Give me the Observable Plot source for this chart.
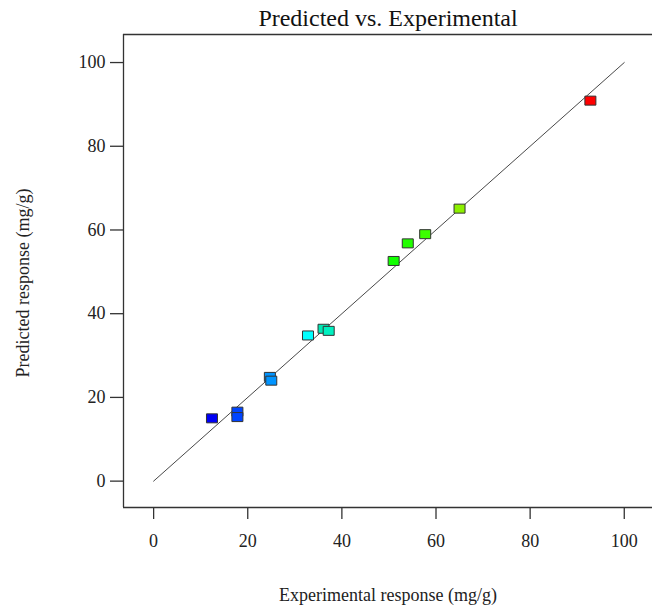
<!DOCTYPE html>
<html>
<head>
<meta charset="utf-8">
<script src="https://cdn.jsdelivr.net/npm/d3@7"></script>
<script src="https://cdn.jsdelivr.net/npm/@observablehq/plot@0.6"></script>
<style>
  html, body { margin: 0; padding: 0; background: #fff; }
  #chart svg { display: block; }
</style>
</head>
<body>
<div id="chart"></div>
<script>
// Data
const experimental = [12.4, 17.8, 17.8, 24.7, 25.0, 32.8, 36.1, 37.2, 51.0, 54.0, 57.7, 65.0, 92.8];
const predicted    = [15.0, 16.6, 15.3, 24.9, 24.0, 34.8, 36.4, 35.9, 52.6, 56.8, 59.0, 65.1, 90.9];
const pointColors  = ["#0000f5", "#0044ff", "#0044ff", "#0094ff", "#0094ff", "#00ffff", "#00e8b4", "#00f0c0",
                      "#11ff00", "#22ff00", "#3cff00", "#8cf000", "#ff0000"];
const fitLine = [{x: 0, y: 0}, {x: 100, y: 100}];
const xTicks = [0, 20, 40, 60, 80, 100];
const yTicks = [0, 20, 40, 60, 80, 100];
const xDomain = [-6.4, 106];
const yDomain = [-6.3, 106.7];
const title = "Predicted vs. Experimental";
const xLabel = "Experimental response (mg/g)";
const yLabel = "Predicted response (mg/g)";

const points = experimental.map((e, i) => ({x: e, y: predicted[i], c: pointColors[i]}));

// rectangular marker (Design-Expert style)
const rectSymbol = { draw(ctx) { ctx.rect(-5.5, -4.5, 11, 9); } };

const plot = Plot.plot({
  width: 652,
  height: 610,
  marginLeft: 123,
  marginRight: 0,
  marginTop: 34,
  marginBottom: 103,
  style: { fontFamily: "'Liberation Serif', 'Times New Roman', serif", fontSize: "18px", color: "#222", background: "#fff" },
  x: { domain: xDomain },
  y: { domain: yDomain },
  marks: [
    Plot.axisX(xTicks, { tickSize: 12, tickPadding: 15, label: null, tickFormat: d => d, fontSize: 18, stroke: "#333", strokeWidth: 1.3 }),
    Plot.axisY(yTicks, { tickSize: 13, tickPadding: 5, label: null, tickFormat: d => d, fontSize: 18, stroke: "#333", strokeWidth: 1.3 }),
    Plot.ruleY([yDomain[0], yDomain[1]], { stroke: "#333", strokeWidth: 1.3 }),
    Plot.ruleX([xDomain[0]], { stroke: "#333", strokeWidth: 1.3 }),
    Plot.line(fitLine, { x: "x", y: "y", stroke: "#333", strokeWidth: 0.9 }),
    Plot.dot(points, { x: "x", y: "y", fill: "c", stroke: "#333", strokeWidth: 1, symbol: rectSymbol, r: 5 }),
    Plot.text([title], { frameAnchor: "top", lineAnchor: "middle", textAnchor: "middle", dy: -16, fontSize: 24, fill: "#111" }),
    Plot.text([xLabel], { frameAnchor: "bottom", lineAnchor: "middle", textAnchor: "middle", dy: 88, fontSize: 18, fill: "#222" }),
    Plot.text([yLabel], { frameAnchor: "left", lineAnchor: "middle", textAnchor: "middle", rotate: -90, dx: -100, dy: 12, fontSize: 18, fill: "#222" })
  ]
});
document.getElementById("chart").appendChild(plot);
</script>
</body>
</html>
